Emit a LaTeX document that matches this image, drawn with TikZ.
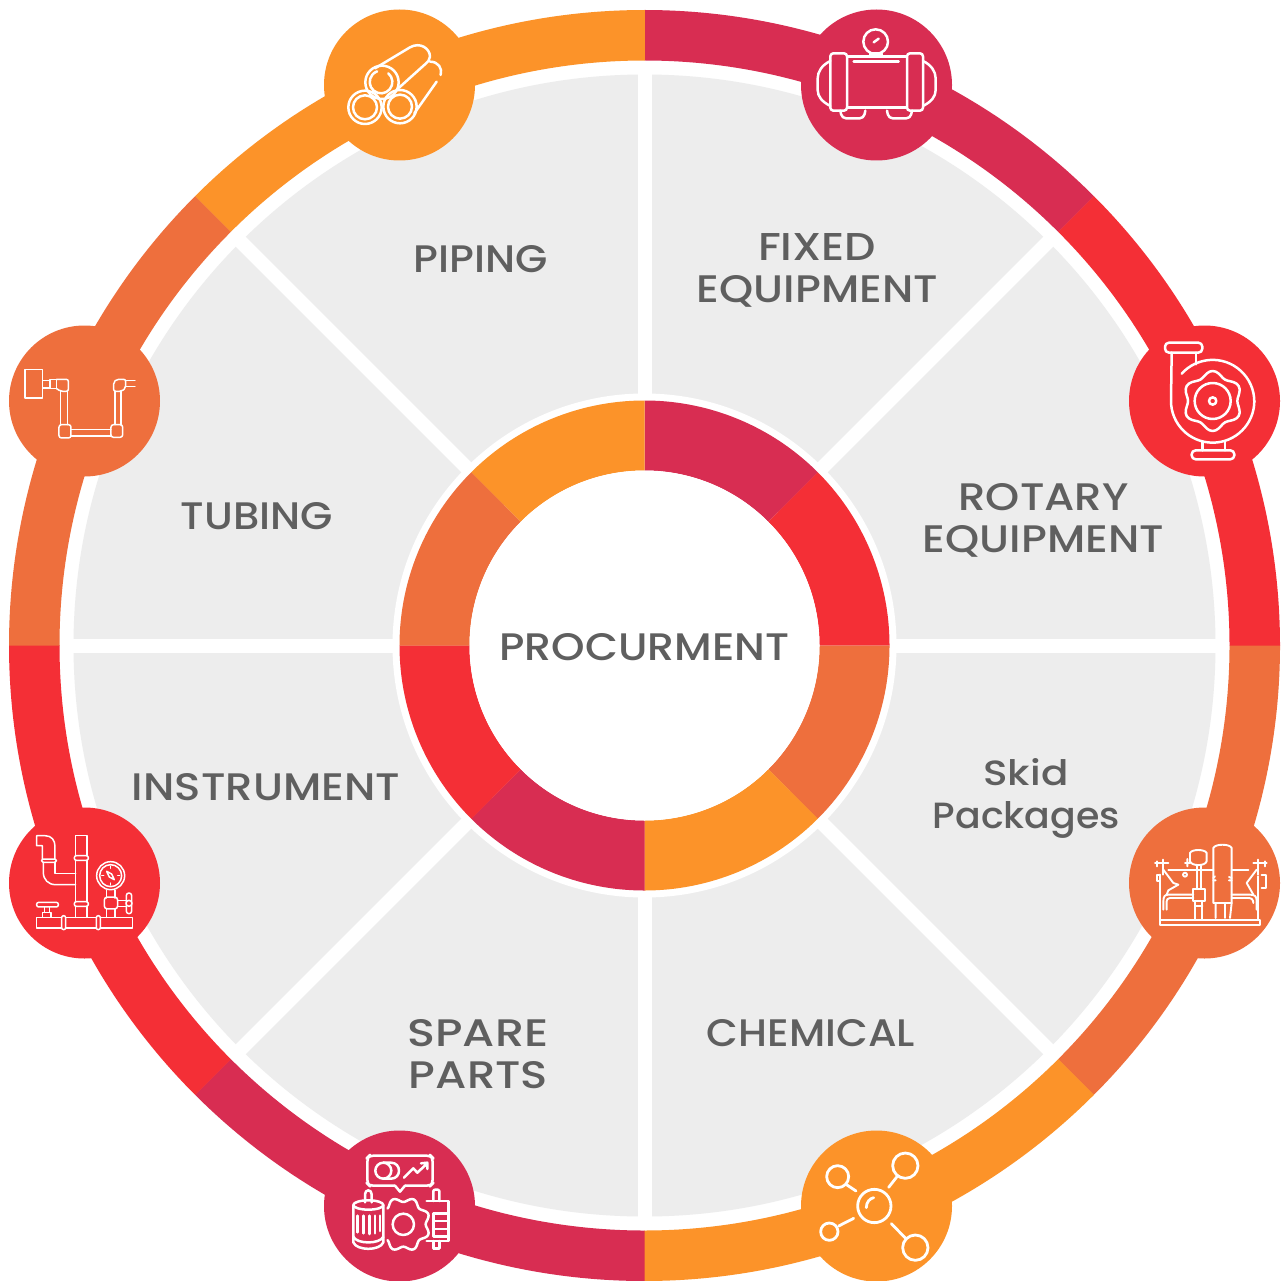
\documentclass[tikz,border=0pt]{standalone}
\usepackage{fontspec}
\setmainfont{Poppins Medium}
\definecolor{crim}{HTML}{D82D52}
\definecolor{redd}{HTML}{F42F36}
\definecolor{oran}{HTML}{EE6F3D}
\definecolor{gold}{HTML}{FC9329}
\definecolor{pane}{HTML}{EDEDED}
\definecolor{ink}{HTML}{5F5F5F}
\newcommand{\sect}[5]{\fill[#1,shift={(644.5,645.5)}] (#2:#4) arc[start angle=#2,end angle=#3,radius=#4] -- (#3:#5) arc[start angle=#3,end angle=#2,radius=#5] -- cycle;}
\newcommand{\tx}[3]{\resizebox{#1pt}{#2pt}{\raisebox{0pt}[\height][0pt]{#3}}}
\tikzset{
 lab/.style={text=ink,inner sep=0pt,anchor=center},
 ic/.style={draw=white,line width=2.5pt,line cap=round,line join=round,fill=none},
 thin ic/.style={draw=white,line width=1.5pt,line cap=round,line join=round,fill=none},
 skid ic/.style={draw=white,line width=1.9pt,line cap=round,line join=round,fill=none},
 badge/.style={circle,minimum size=151pt,inner sep=0pt}
}
\begin{document}
\begin{tikzpicture}[x=1pt,y=-1pt]
\useasboundingbox (0,0) rectangle (1280,1281);
\fill[white] (0,0) rectangle (1280,1281);
% outer ring
\sect{crim}{270}{315.03}{635.5}{585}
\sect{redd}{315}{360.03}{635.5}{585}
\sect{oran}{0}{45.03}{635.5}{585}
\sect{gold}{45}{90.03}{635.5}{585}
\sect{crim}{90}{135.03}{635.5}{585}
\sect{redd}{135}{180.03}{635.5}{585}
\sect{oran}{180}{225.03}{635.5}{585}
\sect{gold}{225}{270.03}{635.5}{585}
% panes
\fill[pane] (644.5,645.5) circle[radius=571];
\foreach \a in {0,45,...,315}
  \draw[white,line width=14pt,shift={(644.5,645.5)}] (0,0) -- (\a:575);
\fill[white] (644.5,645.5) circle[radius=252];
% inner ring
\sect{crim}{270}{315.05}{245}{175}
\sect{redd}{315}{360.05}{245}{175}
\sect{oran}{0}{45.05}{245}{175}
\sect{gold}{45}{90.05}{245}{175}
\sect{crim}{90}{135.05}{245}{175}
\sect{redd}{135}{180.05}{245}{175}
\sect{oran}{180}{225.05}{245}{175}
\sect{gold}{225}{270.05}{245}{175}
\node[circle,fill=white,minimum size=350pt,inner sep=0pt] (hub) at (644.5,645.5) {};
% badges
\node[badge,fill=gold] (bPiping) at (399.5,85) {};
\node[badge,fill=crim] (bFixed) at (876.5,85) {};
\node[badge,fill=redd] (bRotary) at (1204.5,401) {};
\node[badge,fill=oran] (bSkid) at (1204.5,883) {};
\node[badge,fill=gold] (bChem) at (876.5,1206) {};
\node[badge,fill=crim] (bSpare) at (399.5,1206) {};
\node[badge,fill=redd] (bInstr) at (84.5,883) {};
\node[badge,fill=oran] (bTube) at (84.5,401) {};
% labels
\node[lab] (tProc) at (644.5,647) {\tx{290}{27}{PROCURMENT}};
\node[lab] (tPiping) at (480.5,259) {\tx{134}{27}{PIPING}};
\node[lab] (tFix1) at (817,247) {\tx{118}{27}{FIXED}};
\node[lab] (tFix2) at (817.5,289) {\tx{241}{27}{EQUIPMENT}};
\node[lab] (tRot1) at (1043.5,497) {\tx{170}{27}{ROTARY}};
\node[lab] (tRot2) at (1043.5,539) {\tx{241}{27}{EQUIPMENT}};
\node[lab] (tTube) at (257,516) {\tx{152}{27}{TUBING}};
\node[lab] (tInst) at (266,787) {\tx{268}{27}{INSTRUMENT}};
\node[lab] (tSkid1) at (1026,772) {\tx{85}{27}{Skid}};
\node[lab] (tSkid2) at (1026.5,815) {\tx{187}{27}{Packages}};
\node[lab] (tChem) at (811,1033) {\tx{208}{27}{CHEMICAL}};
\node[lab] (tSp1) at (478,1033) {\tx{141}{27}{SPARE}};
\node[lab] (tSp2) at (478.5,1075) {\tx{139}{27}{PARTS}};
% pipes icon
\begin{scope}[shift={(320,5)},x=0.3333pt,y=-0.3333pt]
 \draw[ic] (186,232) circle[radius=50];
 \draw[ic] (205,205) arc[start angle=-50,end angle=250,radius=34] ;
 \draw[ic,fill=none] (135,307) circle[radius=50] (135,307) circle[radius=36];
 \draw[ic] (240,305) circle[radius=50] (240,305) circle[radius=36];
 \draw[ic] (165,190) -- (270,127) .. controls (300,110) and (330,130) .. (330,155) .. controls (330,165) and (322,172) .. (315,178) -- (235,250);
 \draw[ic] (330,170) .. controls (355,170) and (368,190) .. (362,210);
 \draw[ic] (350,230) -- (283,325);
\end{scope}
% tank icon
\begin{scope}[shift={(797,5)},x=0.3333pt,y=-0.3333pt]
 \draw[ic] (150,155) rectangle (330,308);
 \draw[ic,rounded corners=3pt] (100,145) rectangle (150,317);
 \draw[ic,rounded corners=3pt] (330,145) rectangle (378,317);
 \draw[ic] (100,168) .. controls (75,180) and (62,200) .. (62,220) -- (62,255) .. controls (62,275) and (75,290) .. (100,303);
 \draw[ic] (378,168) .. controls (403,180) and (416,200) .. (416,220) -- (416,255) .. controls (416,275) and (403,290) .. (378,303);
 \draw[ic] (236,110) circle[radius=37];
 \draw[ic] (230,112) -- (245,101);
 \draw[ic] (220,146) -- (220,155) (254,146) -- (254,155) (220,146) -- (254,146);
 \draw[ic] (170,170) -- (305,170);
 \draw[ic,rounded corners=4pt] (130,317) -- (135,340) -- (200,340) -- (205,317);
 \draw[ic,rounded corners=4pt] (270,317) -- (275,340) -- (340,340) -- (345,317);
\end{scope}
% pump icon
\begin{scope}[shift={(1125,322)},x=0.3333pt,y=-0.3333pt]
 \draw[ic,rounded corners=4pt] (120,62) rectangle (232,92);
 \draw[ic] (140,92) -- (138,237) arc[start angle=180,end angle=0,radius=125];
 \draw[ic] (213,92) -- (213,127);
 \draw[ic] (170,155) arc[start angle=222,end angle=360,radius=125];
 \draw[ic] plot[smooth cycle,domain=0:354,samples=60] ({263+(82-8*cos(6*\x))*cos(\x)},{237+(82-8*cos(6*\x))*sin(\x)});
 \draw[ic] (263,237) circle[radius=54] (263,237) circle[radius=11];
 \draw[ic] (232,358) -- (232,385) (300,358) -- (300,385);
 \draw[ic,rounded corners=4pt] (200,385) rectangle (328,412);
\end{scope}
% skid icon
\begin{scope}[shift={(1125,803)},x=0.3333pt,y=-0.3333pt]
 \draw[skid ic] (105,350) rectangle (405,365);
 \draw[skid ic] (105,215) -- (105,350) (400,220) -- (400,350);
 \draw[skid ic] (130,200) -- (265,200) (320,200) -- (370,200);
 \draw[skid ic] (115,320) -- (115,295) .. controls (115,280) and (120,275) .. (130,275) -- (205,275);
 \draw[skid ic] (125,320) -- (125,295) .. controls (125,290) and (128,285) .. (135,285) -- (205,285);
 \draw[skid ic] (320,275) -- (375,275) .. controls (390,275) and (395,280) .. (395,295) -- (395,320);
 \draw[skid ic] (320,285) -- (370,285) .. controls (380,285) and (385,290) .. (385,300);
 \draw[skid ic] (265,300) -- (265,135) .. controls (270,122) and (315,122) .. (320,135) -- (320,300) -- cycle;
 \draw[skid ic] (272,300) -- (272,345) (300,300) -- (300,345) (320,300) -- (315,345);
 \draw[skid ic] (195,150) -- (195,175) .. controls (200,190) and (240,190) .. (245,175) -- (245,150) .. controls (240,138) and (200,138) .. (195,150) -- cycle;
 \draw[skid ic] (215,188) -- (215,258) (228,188) -- (228,258);
 \draw[skid ic] (205,258) rectangle (240,295);
 \draw[skid ic] (210,295) -- (210,350) (232,295) -- (232,350) (210,310) -- (232,310);
 \draw[skid ic] (180,180) -- (195,180) (187,168) -- (187,190) (180,215) circle[radius=6];
 \draw[skid ic] (90,180) -- (130,180) (115,170) -- (115,215) (95,175) -- (95,190);
 \draw[skid ic] (115,200) -- (145,240) -- (160,245) -- (130,262) -- (125,275);
 \draw[skid ic] (385,180) -- (425,180) (400,170) -- (400,215) (420,175) -- (420,190);
 \draw[skid ic] (395,200) -- (365,240) -- (385,275);
 \draw[skid ic] (95,215) -- (105,215) -- (105,235) -- (95,235) -- cycle;
 \draw[skid ic] (410,215) -- (422,215) -- (422,255) -- (410,255);
 \draw[skid ic] (265,225) -- (270,220) (265,232) -- (272,232) (320,225) -- (312,222) (320,232) -- (312,232);
\end{scope}
% chemical icon
\begin{scope}[shift={(797,1125)},x=0.3333pt,y=-0.3333pt]
 \draw[ic,line width=2.8pt] (232,243) circle[radius=50];
 \draw[ic,line width=2.8pt] (208,248) .. controls (208,232) and (218,220) .. (230,218);
 \draw[ic,line width=2.8pt] (122,155) circle[radius=33] (325,122) circle[radius=38] (97,320) circle[radius=26] (355,368) circle[radius=38];
 \draw[ic,line width=2.8pt] (150,180) -- (177,198) (300,155) -- (275,187) (125,303) -- (170,280) (283,296) -- (328,342);
\end{scope}
% spare parts icon
\begin{scope}[shift={(320,1125)},x=0.3333pt,y=-0.3333pt]
 \draw[ic,rounded corners=4pt] (225,182) -- (148,182) -- (142,176) -- (142,98) -- (148,92) -- (332,92) -- (338,98) -- (338,176) -- (332,182) -- (255,182);
 \draw[ic] (225,182) -- (240,200) -- (255,182);
 \draw[ic] (190,137) circle[radius=24];
 \draw[ic] (190,113) -- (213,113) .. controls (245,113) and (245,161) .. (213,161) -- (190,161);
 \draw[ic] (252,158) -- (280,130) -- (292,143) -- (322,115) (303,115) -- (322,113) -- (322,132);
 \draw[ic] (145,240) ellipse[x radius=45,y radius=14];
 \draw[ic] (100,240) -- (100,352) .. controls (110,378) and (180,378) .. (190,352) -- (190,240);
 \draw[ic] (100,335) .. controls (110,358) and (180,358) .. (190,335);
 \draw[ic] (135,232) -- (135,208) .. controls (135,192) and (155,192) .. (155,208) -- (155,232);
 \draw[ic] (113,272) -- (113,322) (130,272) -- (130,325) (148,272) -- (148,327) (165,272) -- (165,325) (180,272) -- (180,318);
 \draw[ic] plot[smooth,domain=-135:135,samples=73] ({250+(74-7*cos(8*\x))*cos(\x)},{298+(74-7*cos(8*\x))*sin(\x)});
 \draw[ic] (250,298) circle[radius=32];
 \draw[ic] (320,228) -- (385,228) -- (385,348) -- (320,348);
 \draw[ic] (340,228) -- (340,198) .. controls (340,192) and (358,192) .. (358,198) -- (358,228);
 \draw[ic] (340,348) -- (340,370) (358,348) -- (358,370) (340,370) -- (358,370);
 \draw[ic] (340,265) -- (385,265) (340,288) -- (385,288) (340,312) -- (385,312) (340,265) -- (340,335) -- (385,335);
\end{scope}
% instrument icon
\begin{scope}[shift={(5,803)},x=0.3333pt,y=-0.3333pt]
 \draw[thin ic] (95,343) rectangle (382,375);
 \draw[thin ic,fill=redd,rounded corners=2pt] (170,338) rectangle (182,380);
 \draw[thin ic,fill=redd,rounded corners=2pt] (274,338) rectangle (286,380);
 \draw[thin ic] (212,158) -- (212,98) -- (246,98) -- (246,158);
 \draw[thin ic,rounded corners=2pt] (208,158) rectangle (250,172);
 \draw[thin ic] (212,172) -- (212,296) (246,172) -- (246,296);
 \draw[thin ic,rounded corners=2pt] (208,296) rectangle (250,310);
 \draw[thin ic] (212,310) -- (212,343) (246,310) -- (246,343);
 \draw[thin ic] (112,168) -- (112,128) -- (95,128) -- (95,98) -- (120,98) .. controls (140,98) and (150,112) .. (150,130) -- (150,168);
 \draw[thin ic,rounded corners=2pt] (110,168) rectangle (154,178);
 \draw[thin ic] (115,178) -- (115,208) .. controls (115,230) and (130,245) .. (152,245) -- (212,245);
 \draw[thin ic] (150,178) -- (150,212) -- (212,212);
 \draw[thin ic] (317,218) circle[radius=42] (317,218) circle[radius=33];
 \draw[thin ic] (317,190) -- (317,196) (290,218) -- (296,218) (344,218) -- (338,218) (317,246) -- (317,240);
 \draw[thin ic] (305,205) -- (320,213) -- (328,230) -- (313,222) -- cycle;
 \draw[thin ic] (305,262) -- (305,285) (330,262) -- (330,285);
 \draw[thin ic,rounded corners=3pt] (298,282) rectangle (338,318);
 \draw[thin ic] (305,318) -- (305,343) (330,318) -- (330,343);
 \draw[thin ic] (338,292) -- (362,292) (338,310) -- (362,310);
 \draw[thin ic,rounded corners=2.5pt] (364,270) rectangle (380,332);
 \draw[thin ic,fill=redd] (372,301) circle[radius=9];
 \draw[thin ic,rounded corners=2pt] (95,298) rectangle (160,312);
 \draw[thin ic] (118,312) -- (118,328) (134,312) -- (134,328);
 \draw[thin ic] (112,328) rectangle (138,343);
\end{scope}
% tubing icon
\begin{scope}[shift={(5,322)},x=0.3333pt,y=-0.3333pt]
 \draw[thin ic] (60,143) rectangle (113,228);
 \draw[thin ic] (113,175) rectangle (135,198);
 \draw[thin ic] (135,172) rectangle (155,200);
 \draw[thin ic,rounded corners=2pt] (155,172) -- (190,172) -- (190,208) -- (167,208) -- (155,200);
 \draw[thin ic] (167,208) -- (167,308) (187,208) -- (187,308);
 \draw[thin ic,rounded corners=2.5pt] (162,308) rectangle (198,348);
 \draw[thin ic] (198,322) -- (318,322) (198,342) -- (318,342);
 \draw[thin ic,rounded corners=2.5pt] (318,308) -- (353,308) -- (353,346) -- (318,346) -- cycle;
 \draw[thin ic] (330,208) -- (330,308) (348,208) -- (348,308);
 \draw[thin ic,rounded corners=2pt] (326,208) -- (326,180) -- (335,172) -- (362,172) -- (362,198) -- (350,208) -- cycle;
 \draw[thin ic] (362,176) -- (390,176) (362,194) -- (390,194);
\end{scope}
\end{tikzpicture}
\end{document}
